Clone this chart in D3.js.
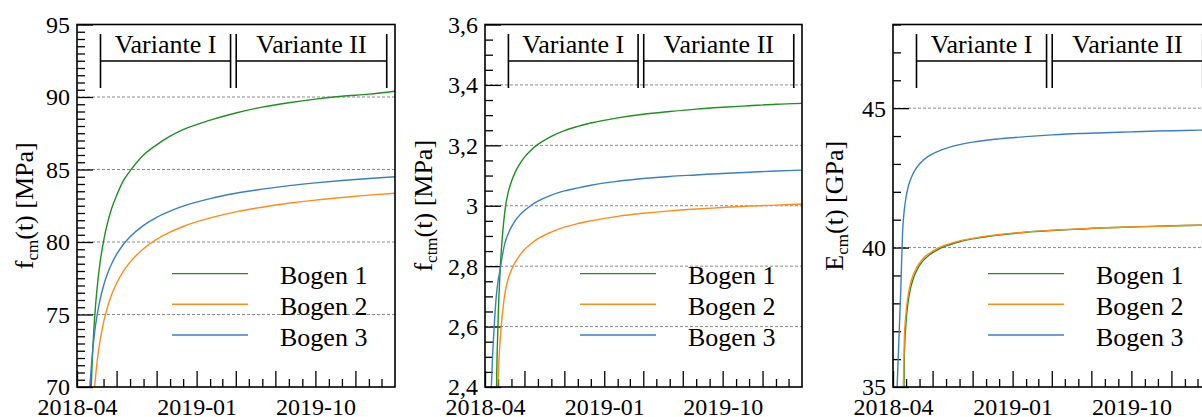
<!DOCTYPE html>
<html><head><meta charset="utf-8">
<script src="https://cdn.jsdelivr.net/npm/d3@7"></script>
<style>
body{margin:0;background:#fff;}
svg{display:block;font-family:"Liberation Serif","Times New Roman",serif;}
</style>
</head><body>
<svg id="chart" width="1202" height="417"></svg>
<script>
// ---------------- data ----------------
const dates = ["2018-04-10","2018-04-19","2018-04-23","2018-04-27","2018-05-01","2018-05-06","2018-05-11","2018-05-17","2018-05-24","2018-06-01","2018-06-10","2018-06-20","2018-07-01","2018-07-16","2018-08-01","2018-09-01","2018-10-01","2018-11-01","2018-12-01","2019-02-01","2019-04-01","2019-06-01","2019-08-01","2019-10-01","2019-12-01","2020-02-01","2020-04-01"];
const seriesNames = ["Bogen 1","Bogen 2","Bogen 3"];

const fcmBogen1 = [null,null,34.0,59.9,67.1,71.74,74.53,76.76,78.58,80.05,81.3,82.34,83.2,84.2,84.9,86.0,86.7,87.3,87.75,88.4,88.9,89.3,89.6,89.85,90.05,90.2,90.4];
const fcmBogen2 = [null,null,44.1,58.55,63.91,67.56,69.82,71.68,73.18,74.46,75.5,76.4,77.16,77.96,78.61,79.54,80.18,80.68,81.07,81.66,82.08,82.4,82.67,82.89,83.07,83.23,83.36];
const fcmBogen3 = [null,53.5,63.3,67.57,70.09,72.18,73.64,74.92,76.03,76.98,77.81,78.52,79.14,79.81,80.36,81.15,81.7,82.13,82.47,82.99,83.36,83.65,83.89,84.08,84.24,84.38,84.5];

const fctmBogen1 = [null,null,1.335,2.327,2.609,2.789,2.897,2.984,3.042,3.08,3.112,3.138,3.161,3.184,3.203,3.23,3.249,3.263,3.274,3.291,3.303,3.312,3.32,3.326,3.331,3.336,3.339];
const fctmBogen2 = [null,null,1.667,2.216,2.419,2.556,2.641,2.711,2.756,2.787,2.814,2.836,2.855,2.874,2.891,2.913,2.929,2.941,2.95,2.965,2.975,2.983,2.989,2.994,2.999,3.002,3.006];
const fctmBogen3 = [2.2,2.52,2.62,2.7,2.75,2.79,2.835,2.877,2.906,2.93,2.951,2.969,2.984,3.001,3.015,3.035,3.049,3.059,3.068,3.081,3.09,3.097,3.102,3.107,3.111,3.115,3.118];

const EcmBogen1 = [null,null,30.5,36.07,37.33,38.08,38.52,38.86,39.13,39.36,39.54,39.69,39.82,39.95,40.06,40.21,40.31,40.39,40.45,40.55,40.61,40.66,40.71,40.74,40.77,40.79,40.81];
const EcmBogen2 = [null,null,33.7,36.71,37.68,38.31,38.7,39.0,39.25,39.45,39.62,39.76,39.87,40.0,40.1,40.24,40.33,40.41,40.47,40.56,40.62,40.67,40.71,40.74,40.76,40.79,40.81];
const EcmBogen3 = [34.8,38.55,40.55,41.35,41.81,42.18,42.43,42.65,42.84,43.0,43.14,43.26,43.36,43.47,43.56,43.69,43.78,43.85,43.9,43.98,44.04,44.09,44.12,44.15,44.18,44.2,44.22];

const xDomain = ["2018-04-01","2020-04-01"];
const xTickLabels = ["2018-04","2019-01","2019-10"];

const fcmTicks = [70,75,80,85,90,95];
const fcmTickLabels = ["70","75","80","85","90","95"];
const fctmTicks = [2.4,2.6,2.8,3.0,3.2,3.4,3.6];
const fctmTickLabels = ["2,4","2,6","2,8","3","3,2","3,4","3,6"];
const EcmTicks = [35,40,45];
const EcmTickLabels = ["35","40","45"];

const variantLabels = ["Variante I","Variante II"];
const variantBounds = ["2018-05-25","2019-03-20","2019-04-02","2020-03-13"];

// ---------------- styles ----------------
const colors = ["#1f8f1f","#ff8c1a","#3a7fc1"];
const FONT = 26, TICKFONT = 24;
const plotTop = 24.5, plotBottom = 387;

const parse = d3.timeParse("%Y-%m-%d");
const fmtYM = d3.timeFormat("%Y-%m");
const dateObjs = dates.map(parse);

const panels = [
  {left:77, right:395, dom:[70,95], ticks:fcmTicks, tickLabels:fcmTickLabels, minor:0.5,
   sym:"f", sub:"cm", unit:"(t) [MPa]", labelX:33, series:[fcmBogen1,fcmBogen2,fcmBogen3]},
  {left:485, right:802, dom:[2.4,3.6], ticks:fctmTicks, tickLabels:fctmTickLabels, minor:0.05,
   sym:"f", sub:"ctm", unit:"(t) [MPa]", labelX:432, series:[fctmBogen1,fctmBogen2,fctmBogen3]},
  {left:893, right:1211, dom:[35,48], ticks:EcmTicks, tickLabels:EcmTickLabels, minor:1,
   sym:"E", sub:"cm", unit:"(t) [GPa]", labelX:843, series:[EcmBogen1,EcmBogen2,EcmBogen3]}
];

const svg = d3.select("#chart");

panels.forEach((p, pi) => {
  const x = d3.scaleTime().domain(xDomain.map(parse)).range([p.left, p.right]);
  const y = d3.scaleLinear().domain(p.dom).range([plotBottom, plotTop]);
  const g = svg.append("g");

  const cid = "clip" + pi;
  svg.append("clipPath").attr("id", cid).append("rect")
    .attr("x", p.left).attr("y", plotTop).attr("width", p.right - p.left).attr("height", plotBottom - plotTop);

  // grid
  const gridVals = p.ticks.filter(v => v > p.dom[0] + 1e-9 && v < p.dom[1] - 1e-9);
  g.append("g").selectAll("line").data(gridVals).join("line")
    .attr("x1", p.left).attr("x2", p.right)
    .attr("y1", d => y(d)).attr("y2", d => y(d))
    .attr("stroke", "#8a8a8a").attr("stroke-width", 1).attr("stroke-dasharray", "3,2");

  // minor y ticks
  const nMinor = Math.round((p.dom[1] - p.dom[0]) / p.minor);
  const minorVals = d3.range(nMinor + 1).map(i => +(p.dom[0] + i * p.minor).toFixed(4))
    .filter(v => !p.ticks.some(t => Math.abs(t - v) < 1e-6));
  const yMinor = d3.axisLeft(y).tickValues(minorVals).tickSize(-8).tickFormat("");
  const gyMin = g.append("g").attr("transform", `translate(${p.left},0)`).call(yMinor);
  gyMin.select(".domain").remove();
  gyMin.selectAll("line").attr("stroke", "#000").attr("stroke-width", 1.3);

  // major y ticks
  const yMajor = d3.axisLeft(y).tickValues(p.ticks).tickSize(-16).tickPadding(7)
    .tickFormat((d, i) => p.tickLabels[i]);
  const gy = g.append("g").attr("transform", `translate(${p.left},0)`).call(yMajor);
  gy.select(".domain").remove();
  gy.selectAll("line").attr("stroke", "#000").attr("stroke-width", 1.3);
  gy.selectAll("text").attr("font-size", TICKFONT).attr("font-family", "Liberation Serif")
    .attr("fill", "#000").attr("dy", "0.33em");

  // x ticks
  const monthTicks = d3.timeMonth.range(parse("2018-05-01"), parse("2020-04-01"));
  const majorX = monthTicks.filter(d => d.getMonth() % 3 === 0);
  const minorX = monthTicks.filter(d => d.getMonth() % 3 !== 0);
  const xMinor = d3.axisBottom(x).tickValues(minorX).tickSize(-8).tickFormat("");
  const gxMin = g.append("g").attr("transform", `translate(0,${plotBottom})`).call(xMinor);
  gxMin.select(".domain").remove();
  gxMin.selectAll("line").attr("stroke", "#000").attr("stroke-width", 1.3);

  const xMajorVals = [parse("2018-04-01")].concat(majorX);
  const xMajor = d3.axisBottom(x).tickValues(xMajorVals).tickSize(-16).tickPadding(11)
    .tickFormat(d => xTickLabels.includes(fmtYM(d)) ? fmtYM(d) : "");
  const gx = g.append("g").attr("transform", `translate(0,${plotBottom})`).call(xMajor);
  gx.select(".domain").remove();
  gx.selectAll("line").attr("stroke", "#000").attr("stroke-width", 1.3);
  gx.selectAll("text").attr("font-size", TICKFONT).attr("font-family", "Liberation Serif").attr("fill", "#000");

  // series
  const line = d3.line()
    .defined(d => d.v != null)
    .x(d => x(d.date)).y(d => y(d.v))
    .curve(d3.curveMonotoneX);
  const sg = g.append("g").attr("clip-path", `url(#${cid})`);
  p.series.forEach((arr, si) => {
    const pts = dateObjs.map((d, i) => ({date: d, v: arr[i]}));
    sg.append("path").datum(pts).attr("d", line)
      .attr("fill", "none").attr("stroke", colors[si]).attr("stroke-width", 1.4);
  });

  // frame
  g.append("rect").attr("x", p.left).attr("y", plotTop)
    .attr("width", p.right - p.left).attr("height", plotBottom - plotTop)
    .attr("fill", "none").attr("stroke", "#000").attr("stroke-width", 1.6);

  // Variante bracket
  const vb = variantBounds.map(d => x(parse(d)));
  const bg = g.append("g").attr("stroke", "#000").attr("stroke-width", 1.6);
  vb.forEach(xx => bg.append("line").attr("x1", xx).attr("x2", xx).attr("y1", 34).attr("y2", 88));
  bg.append("line").attr("x1", vb[0]).attr("x2", vb[1]).attr("y1", 61).attr("y2", 61);
  bg.append("line").attr("x1", vb[2]).attr("x2", vb[3]).attr("y1", 61).attr("y2", 61);
  g.append("text").attr("x", (vb[0] + vb[1]) / 2).attr("y", 53).attr("text-anchor", "middle")
    .attr("font-size", FONT).text(variantLabels[0]);
  g.append("text").attr("x", (vb[2] + vb[3]) / 2).attr("y", 53).attr("text-anchor", "middle")
    .attr("font-size", FONT).text(variantLabels[1]);

  // legend
  seriesNames.forEach((name, si) => {
    const ly = 273.6 + si * 30.7;
    g.append("line").attr("x1", p.left + 95).attr("x2", p.left + 171)
      .attr("y1", ly).attr("y2", ly).attr("stroke", colors[si]).attr("stroke-width", 1.4);
    g.append("text").attr("x", p.left + 203).attr("y", ly + 10.7)
      .attr("font-size", FONT).text(name);
  });

  // y label
  const yl = g.append("text")
    .attr("transform", `translate(${p.labelX},${(plotTop + plotBottom) / 2}) rotate(-90)`)
    .attr("text-anchor", "middle").attr("font-size", FONT);
  yl.append("tspan").text(p.sym);
  yl.append("tspan").attr("font-size", 17).attr("dy", 5).text(p.sub);
  yl.append("tspan").attr("dy", -5).text(p.unit);
});
</script>
</body></html>
